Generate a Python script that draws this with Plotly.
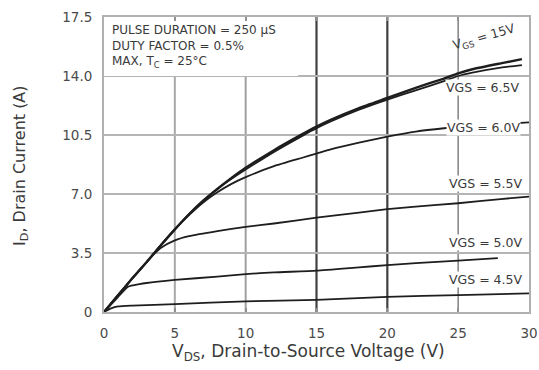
import plotly.graph_objects as go

# Output characteristics: drain current vs drain-source voltage for several gate voltages
vds_15 = [0, 1, 2, 3, 4, 5, 6, 7, 8, 9, 10, 12, 14, 15, 16, 18, 20, 22, 24, 25, 26, 28, 29.5]
id_15 = [0, 1.0, 2.0, 2.95, 3.95, 4.9, 5.8, 6.6, 7.3, 7.95, 8.55, 9.6, 10.55, 11.0, 11.4, 12.1, 12.7, 13.3, 13.85, 14.15, 14.4, 14.75, 15.0]

vds_65 = [0, 1, 2, 3, 4, 5, 6, 7, 8, 9, 10, 12, 14, 15, 16, 18, 20, 22, 24, 25, 26, 28, 29.5]
id_65 = [0, 1.0, 2.0, 2.95, 3.95, 4.9, 5.8, 6.6, 7.3, 7.9, 8.45, 9.5, 10.45, 10.9, 11.3, 12.0, 12.6, 13.15, 13.7, 14.0, 14.2, 14.5, 14.65]

vds_60 = [0, 1, 2, 3, 4, 5, 6, 7, 8, 9, 10, 12, 14, 15, 16, 18, 20, 22, 24, 26, 28, 30]
id_60 = [0, 1.0, 2.0, 2.95, 3.95, 4.9, 5.75, 6.5, 7.1, 7.6, 8.0, 8.65, 9.15, 9.4, 9.65, 10.05, 10.4, 10.7, 10.9, 11.05, 11.15, 11.25]

vds_55 = [0, 1, 2, 3, 3.6, 4, 5, 6, 8, 10, 12, 15, 18, 20, 22, 25, 28, 30]
id_55 = [0, 1.0, 2.0, 2.95, 3.5, 3.8, 4.25, 4.5, 4.8, 5.05, 5.25, 5.6, 5.9, 6.1, 6.25, 6.45, 6.7, 6.85]

vds_50 = [0, 1, 1.7, 2.5, 3, 5, 8, 10, 12, 15, 18, 20, 22, 25, 27.8]
id_50 = [0, 0.9, 1.5, 1.65, 1.72, 1.9, 2.1, 2.25, 2.35, 2.45, 2.65, 2.78, 2.9, 3.05, 3.2]

vds_45 = [0, 0.5, 1, 2, 5, 10, 15, 20, 25, 30]
id_45 = [0, 0.22, 0.33, 0.38, 0.47, 0.63, 0.72, 0.9, 1.0, 1.1]

x_ticks = [0, 5, 10, 15, 20, 25, 30]
y_ticks = [0, 3.5, 7.0, 10.5, 14.0, 17.5]
y_tick_text = ["0", "3.5", "7.0", "10.5", "14.0", "17.5"]

curve_labels = ["V<sub>GS</sub> = 15V", "VGS = 6.5V", "VGS = 6.0V", "VGS = 5.5V", "VGS = 5.0V", "VGS = 4.5V"]

FONT = "DejaVu Sans, Verdana, sans-serif"
INK = "#1e1e1e"
TXT = "#3a3a3a"

fig = go.Figure()

series = [(vds_15, id_15, 2.4), (vds_65, id_65, 1.8), (vds_60, id_60, 1.8),
          (vds_55, id_55, 1.8), (vds_50, id_50, 1.8), (vds_45, id_45, 1.8)]
for xs, ys, w in series:
    fig.add_trace(go.Scatter(x=xs, y=ys, mode="lines",
                             line=dict(color=INK, width=w, shape="spline", smoothing=0.5),
                             showlegend=False, hoverinfo="skip"))

shapes = []
# vertical grid lines: 15 and 20 are drawn heavier
v_style = {5: ("#a8a8a8", 2), 10: ("#a0a0a0", 2), 15: ("#404040", 2.2),
           20: ("#404040", 2.2), 25: ("#8a8a8a", 1.6)}
for xv, (col, w) in v_style.items():
    shapes.append(dict(type="line", xref="x", yref="y", x0=xv, x1=xv, y0=0, y1=17.5,
                       line=dict(color=col, width=w), layer="below"))
for yv in y_ticks[1:-1]:
    shapes.append(dict(type="line", xref="x", yref="y", x0=0, x1=30, y0=yv, y1=yv,
                       line=dict(color="#b4b4b4", width=2), layer="below"))
# clear area behind the test-condition notes
shapes.append(dict(type="rect", xref="x", yref="y", x0=0, x1=13.7, y0=14, y1=17.5,
                   fillcolor="white", line=dict(width=0), layer="below"))

annotations = [
    dict(xref="paper", yref="paper", x=0.014, y=0.985, xanchor="left", yanchor="top",
         align="left", showarrow=False,
         text="PULSE DURATION = 250 µS<br>DUTY FACTOR = 0.5%<br>MAX, T<sub>C</sub> = 25°C",
         font=dict(family=FONT, size=12, color=TXT)),
    dict(xref="x", yref="y", x=26.8, y=16.3, text=curve_labels[0], textangle=-16,
         showarrow=False, font=dict(family=FONT, size=12.5, color=TXT)),
]
label_pos = [(26.75, 13.3), (26.8, 10.97), (26.9, 7.65), (26.9, 4.15), (26.9, 1.9)]
for txt, (lx, ly) in zip(curve_labels[1:], label_pos):
    annotations.append(dict(xref="x", yref="y", x=lx, y=ly, text=txt, showarrow=False,
                            bgcolor="white", borderpad=0,
                            font=dict(family=FONT, size=12.5, color=TXT)))
annotations.append(dict(xref="paper", yref="paper", x=0.482, y=-0.136,
                        xanchor="center", yanchor="middle", showarrow=False,
                        text="V<sub>DS</sub>, Drain-to-Source Voltage (V)",
                        font=dict(family=FONT, size=17, color=TXT)))
annotations.append(dict(xref="paper", yref="paper", x=-0.198, y=0.498,
                        xanchor="center", yanchor="middle", showarrow=False,
                        textangle=-90, text="I<sub>D</sub>, Drain Current (A)",
                        font=dict(family=FONT, size=16, color=TXT)))

fig.update_layout(
    width=539, height=370,
    margin=dict(l=104, r=10, t=17, b=58),
    paper_bgcolor="white", plot_bgcolor="white",
    shapes=shapes, annotations=annotations,
    xaxis=dict(range=[0, 30], tickvals=x_ticks, showgrid=False, zeroline=False,
               automargin=False,
               showline=True, linecolor="#b0b0b0", linewidth=2, mirror="ticks",
               ticks="inside", ticklen=4, tickwidth=1.5, tickcolor="#909090",
               ticklabelstandoff=8,
               tickfont=dict(family=FONT, size=13.5, color="#4a4a4a")),
    yaxis=dict(range=[0, 17.5], tickvals=y_ticks, ticktext=y_tick_text, showgrid=False,
               automargin=False,
               zeroline=False, showline=True, linecolor="#b0b0b0", linewidth=2,
               mirror=True, ticks="", ticklabelstandoff=7,
               tickfont=dict(family=FONT, size=13.5, color="#4a4a4a")),
)

fig.write_html("out.html")
